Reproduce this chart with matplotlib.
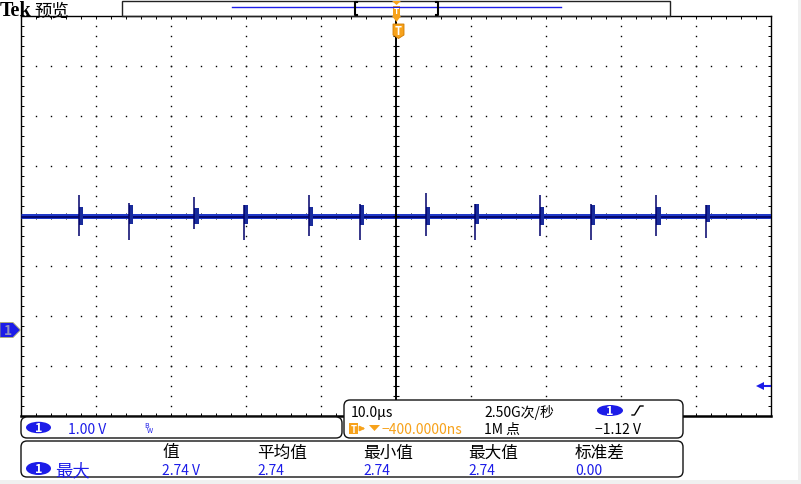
import matplotlib.pyplot as plt
import numpy as np
from matplotlib.patches import FancyBboxPatch, Polygon, Ellipse, Rectangle
from matplotlib.transforms import blended_transform_factory

plt.rcParams['font.family'] = ['Noto Sans CJK SC', 'DejaVu Sans']

# trace: volts (ground = 0 V) vs time in µs, 1 V/div, 10 µs/div
baseline_v = 2.29
spike_t = [-42.3, -35.6, -26.9, -20.3, -11.6, -4.8, 4.0, 10.5, 19.2, 26.0, 34.7, 41.3]
spike_hi = [2.70, 2.54, 2.66, 2.50, 2.71, 2.53, 2.74, 2.53, 2.71, 2.53, 2.71, 2.51]
spike_lo = [1.88, 1.80, 2.02, 1.80, 1.89, 1.81, 1.89, 1.81, 1.89, 1.81, 1.89, 1.85]
ring_hi = [2.46, 2.50, 2.45, 2.50, 2.47, 2.51, 2.46, 2.53, 2.47, 2.51, 2.46, 2.51]
ring_lo = [2.10, 2.12, 2.12, 2.12, 2.09, 2.11, 2.10, 2.12, 2.10, 2.11, 2.10, 2.16]

# readouts
ch_scale = "1.00 V"
timebase = "10.0µs"
sample_rate = "2.50G次/秒"
record_len = "1M 点"
trig_delay = "−400.0000ns"
trig_level = -1.12
meas_name = "最大"
meas_headers = ["值", "平均值", "最小值", "最大值", "标准差"]
meas_values = ["2.74 V", "2.74", "2.74", "2.74", "0.00"]

BLUE = '#1c1ce8'
ORANGE = '#f7a21b'
XLIM = (-50, 50)
YLIM = (-1.72, 6.28)

W, H = 801, 485
fig = plt.figure(figsize=(W / 100, H / 100), dpi=100)
fig.patch.set_facecolor('white')

# ---- scope graticule ----
ax = fig.add_axes([21 / W, 68 / H, 750 / W, 400 / H], zorder=1)
ax.set_xlim(*XLIM)
ax.set_ylim(*YLIM)
ax.set_facecolor('white')
for s in ['left', 'right', 'top']:
    ax.spines[s].set_linewidth(1.0)
ax.spines['bottom'].set_linewidth(1.8)
ax.set_xticks(np.arange(XLIM[0], XLIM[1] + 0.01, 2))
ax.set_yticks(np.arange(YLIM[0], YLIM[1] + 0.01, 0.2))
ax.tick_params(which='both', direction='in', length=2.5, width=0.7,
               top=True, right=True, labelbottom=False, labelleft=False)

vy = np.arange(YLIM[0], YLIM[1] + 0.01, 0.2)
hx = np.arange(XLIM[0], XLIM[1] + 0.01, 2)
for gx in range(-40, 41, 10):
    if gx == 0:
        continue
    ax.plot(np.full_like(vy, gx), vy, ls='none', marker='s', ms=1.0, mew=0, color='k')
for k in range(1, 8):
    gy = YLIM[0] + k
    if k == 4:
        ax.plot(hx, np.full_like(hx, gy), ls='none', marker='|', ms=4, mew=0.7, color='k')
    else:
        ax.plot(hx, np.full_like(hx, gy), ls='none', marker='s', ms=1.0, mew=0, color='k')

# trace
ax.hlines(baseline_v, *XLIM, color='#2038c8', lw=3.6, zorder=3)
ax.hlines(baseline_v - 0.02, *XLIM, color='#00005e', lw=1.2, zorder=4)
st = np.array(spike_t)
ax.bar(st + 0.3, np.array(ring_hi) - np.array(ring_lo), bottom=ring_lo,
       width=0.55, color='#1a2c9c', zorder=4)
ax.vlines(st, spike_lo, spike_hi, color='#00006a', lw=1.1, zorder=5)

# centre line
ax.axvline(0, color='k', lw=1.4, zorder=6)
ax.plot(np.zeros_like(vy), vy, ls='none', marker='_', ms=5, mew=0.8, color='k', zorder=6)

# trigger level arrow
ax.plot([48.6], [trig_level], marker='<', ms=6, color=BLUE, mew=0, zorder=7)
ax.plot([48.9, 49.9], [trig_level] * 2, color=BLUE, lw=1.5, zorder=7)

# ---- overlay in pixel coordinates ----
ov = fig.add_axes([0, 0, 1, 1], zorder=2)
ov.set_xlim(0, W)
ov.set_ylim(H, 0)
ov.axis('off')
ov.patch.set_alpha(0)

ov.add_patch(Rectangle((0, 481), W, 4, color='#f0f0f0', lw=0))
ov.add_patch(Rectangle((798, 0), 3, H, color='#f0f0f0', lw=0))

ov.text(0, 16.5, "Tek", family='Liberation Serif', weight='bold', size=14.5, va='baseline')
ov.text(34, 16.5, "预览", size=12.5, va='baseline')

# record bar
ov.add_patch(Rectangle((122, 1.5), 548, 15.5, fill=False, ec='#222', lw=1))
ov.plot([232, 561], [8.3, 8.3], color=BLUE, lw=1)
ov.plot([357, 355, 355, 357], [3, 3, 16, 16], color='k', lw=1.5)
ov.plot([436, 438, 438, 436], [3, 3, 16, 16], color='k', lw=1.5)
ov.add_patch(Polygon([(392, 2), (401, 2), (396.5, 6)], color=ORANGE, lw=0))
ov.add_patch(Rectangle((393, 6.5), 7, 10.5, color=ORANGE, lw=0))
ov.text(396.5, 12, "T", color='white', size=6, weight='bold', ha='center', va='center')
ov.add_patch(Polygon([(392, 17), (401, 17), (396.5, 23)], color=ORANGE, lw=0))
ov.add_patch(Polygon([(393, 25), (404, 25), (404, 36), (398.5, 39.5), (393, 36)],
                     fc=ORANGE, ec='#d07a00', lw=0.6))
ov.text(398.5, 31.5, "T", color='white', size=8, weight='bold', ha='center', va='center')

# ground marker for channel 1
gtr = blended_transform_factory(ov.transData, ax.transData)
ov.add_patch(Polygon([(0, 0.15), (13, 0.15), (20.5, 0), (13, -0.15), (0, -0.15)],
                     closed=True, fc=BLUE, ec='#b0b070', lw=0.6, transform=gtr, clip_on=False))
ov.text(8, 0, "1", color='#9090c0', size=10, weight='bold', ha='center', va='center',
        transform=gtr)


def panel(x0, y0, x1, y1):
    ov.add_patch(FancyBboxPatch((x0, y0), x1 - x0, y1 - y0,
                                boxstyle="round,pad=0,rounding_size=6",
                                fc='white', ec='#111', lw=1))


def badge(cx, cy, w, h):
    ov.add_patch(Ellipse((cx, cy), w, h, color=BLUE, lw=0))
    ov.text(cx, cy + 0.5, "1", color='white', size=9, weight='bold', ha='center', va='center')


# channel panel
panel(21, 418, 342, 439)
badge(38.5, 428.5, 25, 11.5)
ov.text(68, 434, ch_scale, color=BLUE, size=10, va='baseline')
ov.text(144, 428, "B", color=BLUE, size=5, va='baseline')
ov.text(147, 433.5, "W", color=BLUE, size=5, va='baseline')

# timebase / trigger panel
panel(344, 401, 683, 439)
ov.text(351, 417, timebase, size=10, va='baseline')
ov.text(484, 417, sample_rate, size=10, va='baseline')
badge(610, 411.5, 26, 11)
ov.plot([632, 634.5, 640, 643], [416, 416, 407, 407], color='k', lw=1)
ov.add_patch(Rectangle((349, 424), 9, 11, color=ORANGE, lw=0))
ov.text(353.5, 429.8, "T", color='white', size=7, weight='bold', ha='center', va='center')
ov.annotate("", xy=(368, 429.5), xytext=(359, 429.5),
            arrowprops=dict(arrowstyle='-|>', color=ORANGE, lw=1.2, mutation_scale=7))
ov.add_patch(Polygon([(369, 426), (380, 426), (374.5, 432)], color=ORANGE, lw=0))
ov.text(381, 434, trig_delay, color=ORANGE, size=10, va='baseline')
ov.text(484, 434, record_len, size=10, va='baseline')
ov.text(595, 434, f"−{abs(trig_level):.2f} V", size=10, va='baseline')

# measurement panel
panel(21, 442, 683, 478)
badge(38.5, 469.5, 25, 13)
ov.text(55, 476, meas_name, color=BLUE, size=12.5, va='baseline')
meas_x = [162, 257, 363, 468, 575]
for mx, hd, val in zip(meas_x, meas_headers, meas_values):
    ov.text(mx, 457.5, hd, size=12, va='baseline')
    ov.text(mx, 475, val, color=BLUE, size=10, va='baseline')

fig.savefig("out.png", dpi=100)
